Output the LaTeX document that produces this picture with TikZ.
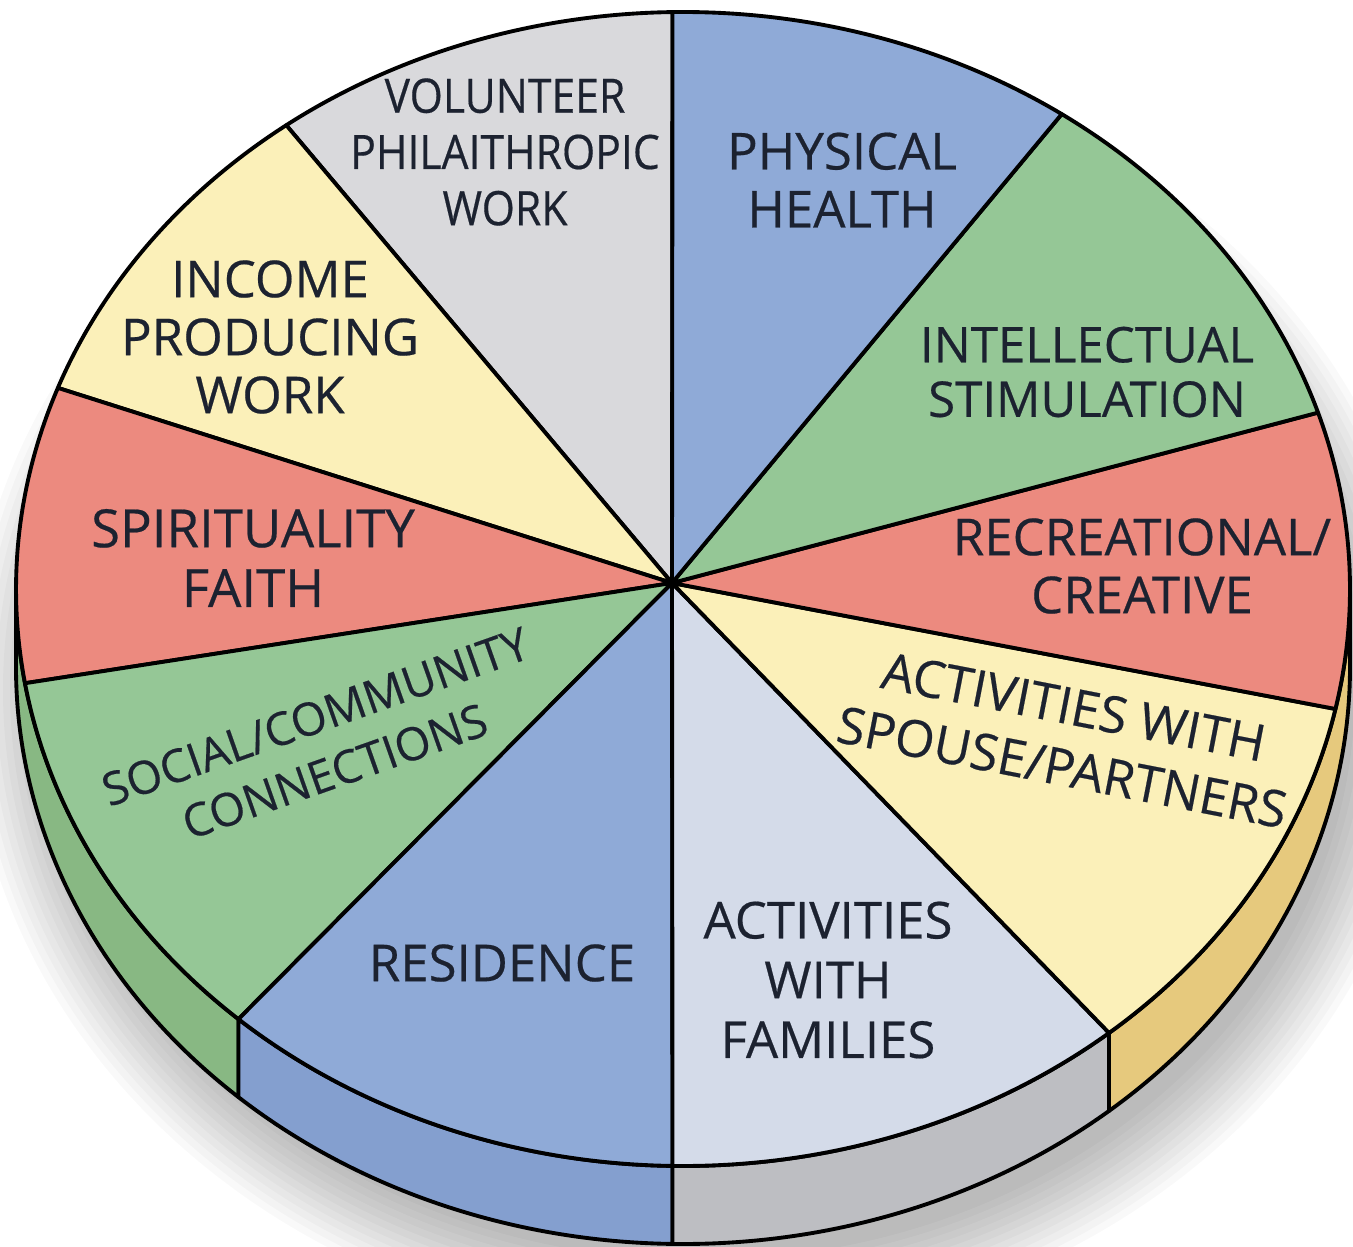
\documentclass[tikz,border=0pt]{standalone}
\usepackage{fontspec}
\setmainfont{Open Sans}
\newfontfamily\lblfont{Open Sans}[FakeBold=0.4]
\usetikzlibrary{calc}
\definecolor{cgray}{HTML}{D9D9DC}
\definecolor{cyellow}{HTML}{FBF0B9}
\definecolor{cred}{HTML}{EC8A7F}
\definecolor{cgreen}{HTML}{95C796}
\definecolor{cblue}{HTML}{8FAAD7}
\definecolor{cfam}{HTML}{D4DBE9}
\definecolor{rgreen}{HTML}{88B883}
\definecolor{rblue}{HTML}{849FCF}
\definecolor{rgray}{HTML}{BDBEC2}
\definecolor{ryellow}{HTML}{E6C97D}
\definecolor{ctext}{HTML}{1C2230}
\newcommand{\pieslice}[3]{\filldraw[fill=#3,draw=black,line width=2.2pt,line join=round] (H) -- ($(C)+(#1:667 and 577)$) arc[start angle=#1,end angle=#2,x radius=667,y radius=577] -- cycle;}
\newcommand{\rimseg}[3]{\filldraw[fill=#3,draw=black,line width=2.2pt,line join=round] ($(C)+(#1:667 and 577)$) arc[start angle=#1,end angle=#2,x radius=667,y radius=577] -- ++(0,-78) arc[start angle=#2,end angle=#1,x radius=667,y radius=577] -- cycle;}
\tikzset{lbl/.style={align=center,inner sep=0pt,text=ctext,font=\lblfont\fontsize{29}{33}\selectfont}}
\begin{document}
\begin{tikzpicture}[x=0.02cm,y=0.02cm]
\useasboundingbox[fill=white] (0,0) rectangle (1353,-1247);
\coordinate (C) at (683,-589);
\coordinate (H) at (672,-583);
% soft shadow
\foreach \i in {0,...,11}
  \fill[black,opacity=0.025] (700,-690) ellipse[x radius={655+\i*7}, y radius={570+\i*7}];
% rim
\rimseg{180}{228.2}{rgreen}
\rimseg{228.2}{269.1}{rblue}
\rimseg{269.1}{309.7}{rgray}
\rimseg{309.7}{360}{ryellow}
% face slices
\pieslice{90.9}{126.5}{cgray}
\pieslice{126.5}{159.6}{cyellow}
\pieslice{159.6}{189.4}{cred}
\pieslice{189.4}{228.2}{cgreen}
\pieslice{228.2}{269.1}{cblue}
\pieslice{269.1}{309.7}{cfam}
\pieslice{309.7}{348.0}{cyellow}
\pieslice{348.0}{377.8}{cred}
\pieslice{17.8}{55.4}{cgreen}
\pieslice{55.4}{90.9}{cblue}
% labels
\node[lbl,font=\lblfont\fontsize{27}{32}\selectfont,xscale=0.9] (volunteer) at (505,-152) {VOLUNTEER\\PHILAITHROPIC\\WORK};
\node[lbl] (physical) at (842,-180) {PHYSICAL\\HEALTH};
\node[lbl] (income) at (270,-337) {INCOME\\PRODUCING\\WORK};
\node[lbl,font=\lblfont\fontsize{28}{31}\selectfont] (intellectual) at (1087,-372) {INTELLECTUAL\\STIMULATION};
\node[lbl,font=\lblfont\fontsize{30}{34}\selectfont] (spirituality) at (253,-558) {SPIRITUALITY\\FAITH};
\node[lbl] (recreational) at (1142,-566) {RECREATIONAL/\\CREATIVE};
\node[lbl,font=\lblfont\fontsize{26}{33}\selectfont,rotate=19.5] (social) at (325,-744) {SOCIAL/COMMUNITY\\CONNECTIONS};
\node[lbl,font=\lblfont\fontsize{29}{35}\selectfont,rotate=-11] (spouse) at (1068,-737) {ACTIVITIES WITH\\SPOUSE/PARTNERS};
\node[lbl] (residence) at (502,-963) {RESIDENCE};
\node[lbl,font=\lblfont\fontsize{29}{34}\selectfont] (families) at (828,-980) {ACTIVITIES\\WITH\\FAMILIES};
\end{tikzpicture}
\end{document}
